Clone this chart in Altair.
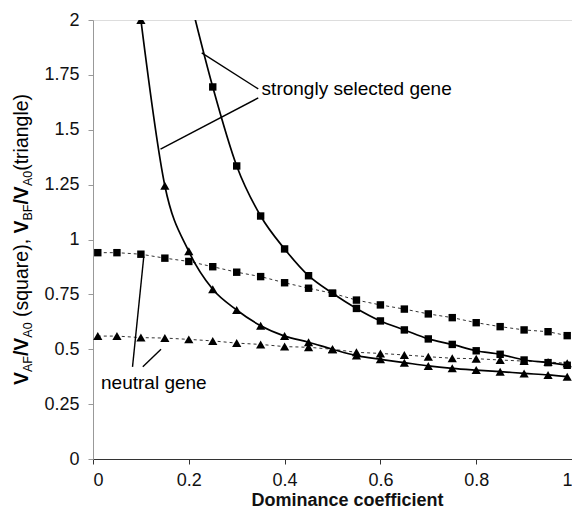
import altair as alt
import pandas as pd

# ---------------- data ----------------
dom_all = [0.01, 0.05, 0.10, 0.15, 0.20, 0.25, 0.30, 0.35, 0.40, 0.45, 0.50,
           0.55, 0.60, 0.65, 0.70, 0.75, 0.80, 0.85, 0.90, 0.95, 0.99]
neutral_sq = [0.940, 0.940, 0.933, 0.915, 0.900, 0.876, 0.851, 0.831, 0.803, 0.778, 0.755,
              0.724, 0.702, 0.683, 0.661, 0.644, 0.621, 0.603, 0.588, 0.580, 0.562]
neutral_tri = [0.560, 0.560, 0.553, 0.551, 0.545, 0.538, 0.528, 0.522, 0.512, 0.509, 0.500,
               0.486, 0.481, 0.474, 0.466, 0.459, 0.457, 0.451, 0.446, 0.442, 0.436]

dom_strong_tri = [0.10, 0.15, 0.20, 0.25, 0.30, 0.35, 0.40, 0.45, 0.50, 0.55,
                  0.60, 0.65, 0.70, 0.75, 0.80, 0.85, 0.90, 0.95, 0.99]
strong_tri = [2.000, 1.245, 0.946, 0.773, 0.679, 0.607, 0.560, 0.532, 0.500, 0.471,
              0.454, 0.439, 0.424, 0.413, 0.405, 0.398, 0.390, 0.383, 0.375]

dom_strong_sq = [0.20, 0.25, 0.30, 0.35, 0.40, 0.45, 0.50, 0.55, 0.60,
                 0.65, 0.70, 0.75, 0.80, 0.85, 0.90, 0.95, 0.99]
strong_sq = [2.120, 1.695, 1.335, 1.107, 0.957, 0.835, 0.755, 0.686, 0.629,
             0.588, 0.547, 0.522, 0.493, 0.477, 0.451, 0.439, 0.427]

x_ticks = [0, 0.2, 0.4, 0.6, 0.8, 1]
y_ticks = [0, 0.25, 0.5, 0.75, 1, 1.25, 1.5, 1.75, 2]

# annotation pointer lines (data coordinates)
ann_x = [0.345, 0.345, 0.0825, 0.104]
ann_y = [1.686, 1.645, 0.420, 0.420]
ann_x2 = [0.227, 0.141, 0.106, 0.142]
ann_y2 = [1.850, 1.412, 0.922, 0.500]

ann_text = ["strongly selected gene", "neutral gene"]
ann_tx = [0.352, 0.127]
ann_ty = [1.686, 0.348]
ann_align = ["left", "center"]

# ---------------- frames ----------------
df_nsq = pd.DataFrame({"d": dom_all, "v": neutral_sq})
df_ntri = pd.DataFrame({"d": dom_all, "v": neutral_tri})
df_stri = pd.DataFrame({"d": dom_strong_tri, "v": strong_tri})
df_ssq = pd.DataFrame({"d": dom_strong_sq, "v": strong_sq})
df_ann = pd.DataFrame({"x": ann_x, "y": ann_y, "x2": ann_x2, "y2": ann_y2})
df_txt = pd.DataFrame({"t": ann_text, "x": ann_tx, "y": ann_ty, "a": ann_align})

W, H = 479, 439
FONT = "Liberation Sans"

xscale = alt.Scale(domain=[0, 1], nice=False, zero=False)
yscale = alt.Scale(domain=[0, 2], nice=False, zero=True)

xaxis = alt.Axis(values=x_ticks, labelExpr="'' + datum.value", grid=False, tickSize=5,
                 labelFontSize=18, labelFont=FONT, labelColor="#111",
                 labelPadding=7, domainColor="#333", tickColor="#333",
                 title="Dominance coefficient", titleFont=FONT,
                 titleFontSize=18, titleFontWeight="bold", titleColor="#111",
                 titleX=254, titleY=41, titleBaseline="middle", titleAlign="center")
yaxis = alt.Axis(values=y_ticks, labelExpr="'' + datum.value", grid=False, tickSize=5,
                 labelFontSize=18, labelFont=FONT, labelColor="#111",
                 labelPadding=9, domainColor="#999", tickColor="#999",
                 title=None)

X = alt.X("d:Q", scale=xscale, axis=xaxis)
Y = alt.Y("v:Q", scale=yscale, axis=yaxis)


def series(df, shape, dashed, size):
    if dashed:
        line = alt.Chart(df).mark_line(color="#333", strokeWidth=1,
                                       strokeDash=[3, 3], clip=True)
    else:
        line = alt.Chart(df).mark_line(color="#000", strokeWidth=1.7,
                                       interpolate="monotone", clip=True)
    line = line.encode(x=X, y=Y)
    pts = alt.Chart(df).mark_point(shape=shape, filled=True, color="#000",
                                   opacity=1, size=size, clip=True).encode(x=X, y=Y)
    return line + pts


layers = [
    series(df_nsq, "square", True, 55),
    series(df_ntri, "triangle-up", True, 85),
    series(df_ssq, "square", False, 55),
    series(df_stri, "triangle-up", False, 85),
]

rules = alt.Chart(df_ann).mark_rule(color="#000", strokeWidth=1.4).encode(
    x=alt.X("x:Q", scale=xscale), y=alt.Y("y:Q", scale=yscale),
    x2="x2:Q", y2="y2:Q")

txt_left = alt.Chart(df_txt[df_txt.a == "left"]).mark_text(
    align="left", baseline="middle", font=FONT, fontSize=19, color="#000").encode(
    x=alt.X("x:Q", scale=xscale), y=alt.Y("y:Q", scale=yscale), text="t:N")
txt_center = alt.Chart(df_txt[df_txt.a == "center"]).mark_text(
    align="center", baseline="middle", font=FONT, fontSize=19, color="#000").encode(
    x=alt.X("x:Q", scale=xscale), y=alt.Y("y:Q", scale=yscale), text="t:N")

# ---------------- rotated y-axis title with subscripts ----------------
W_REG = {" ": 278, "(": 333, ")": 333, ",": 278, "/": 278, "A": 667, "B": 667,
         "F": 611, "V": 667, "0": 556, "a": 556, "e": 556, "g": 556, "i": 222,
         "l": 222, "n": 556, "q": 556, "r": 333, "s": 500, "t": 278, "u": 556}
W_BOLD = {"V": 667, "/": 278}

MAIN, SUB = 19.5, 12.5
segments = [  # text, size, bold, subscript ("" = blank gap of one space)
    ("V", MAIN, True, False), ("AF", SUB, False, True), ("/", MAIN, True, False),
    ("V", MAIN, True, False), ("A0", SUB, False, True), (" ", MAIN, False, False),
    ("(square),", MAIN, False, False), (" ", MAIN, False, False),
    ("V", MAIN, True, False), ("BF", SUB, False, True), ("/", MAIN, True, False),
    ("V", MAIN, True, False), ("A0", SUB, False, True), ("(triangle)", MAIN, False, False),
]


def seg_width(t, size, bold):
    table = W_BOLD if bold else W_REG
    return sum(table.get(c, W_REG.get(c, 556)) for c in t) * size / 1000.0


total = sum(seg_width(t, s, b) for t, s, b, _ in segments)
ypos = H / 2 + total / 2
base_x = -65
title_layers = []
for t, s, b, sub in segments:
    if t.strip():
        title_layers.append(
            alt.Chart(pd.DataFrame({"t": [t]})).mark_text(
                angle=270, align="left", baseline="alphabetic", font=FONT,
                fontSize=s, fontWeight="bold" if b else "normal", color="#000").encode(
                x=alt.value(base_x + (4 if sub else 0)), y=alt.value(ypos), text="t:N"))
    ypos -= seg_width(t, s, b)

chart = alt.layer(*layers, rules, txt_left, txt_center, *title_layers).properties(
    width=W, height=H,
    autosize=alt.AutoSizeParams(type="none"),
    padding={"left": 85, "top": 12, "right": 0, "bottom": 50},
).configure_view(stroke=None).configure(background="white")

chart.save("out.html", embed_options={"renderer": "svg", "actions": False})
